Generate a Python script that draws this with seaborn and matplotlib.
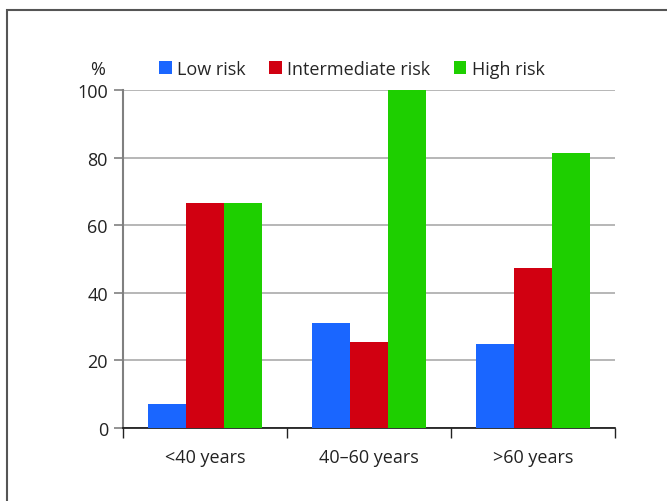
import pandas as pd
import matplotlib
matplotlib.use("Agg")
import matplotlib.pyplot as plt
import seaborn as sns
from matplotlib.patches import Rectangle

# data
age_groups = ["<40 years", "40\u201360 years", ">60 years"]
risk_groups = ["Low risk", "Intermediate risk", "High risk"]
low_risk = [7.0, 31.2, 25.0]
intermediate_risk = [66.7, 25.5, 47.4]
high_risk = [66.7, 100.0, 81.5]
y_ticks = [0, 20, 40, 60, 80, 100]

colors = ["#1a66ff", "#d10011", "#1ecf00"]

rows = []
for i, age in enumerate(age_groups):
    for risk, vals in zip(risk_groups, [low_risk, intermediate_risk, high_risk]):
        rows.append({"age": age, "risk": risk, "pct": vals[i]})
df = pd.DataFrame(rows)

sns.set_style("white")
plt.rcParams["font.family"] = ["Open Sans", "DejaVu Sans"]

fig = plt.figure(figsize=(6.67, 5.02), dpi=100)
ax = fig.add_axes([123 / 667, 1 - 429 / 502, (615 - 123) / 667, (429 - 91) / 502])

sns.barplot(data=df, x="age", y="pct", hue="risk", order=age_groups,
            hue_order=risk_groups, palette=colors, width=0.7,
            saturation=1, linewidth=0, edgecolor="none", ax=ax, zorder=3)

ax.set_ylim(0, 100)
ax.set_xlim(-0.5, 2.5)
ax.set_yticks(y_ticks)
ax.set_yticklabels([str(t) for t in y_ticks], fontsize=13, color="#222222")
ax.set_xticks([-0.5, 0.5, 1.5, 2.5])
ax.set_xticklabels([])
ax.tick_params(axis="x", bottom=True, length=7, width=1, color="#222222", direction="out")
ax.tick_params(axis="y", left=True, length=6.5, width=1.2, color="#808080", pad=4.3)
for i, age in enumerate(age_groups):
    ax.text(i, -6, age, ha="center", va="top", fontsize=13, color="#222222")

ax.grid(axis="y", color="#aaaaaa", linewidth=1.2, zorder=0)
ax.set_axisbelow(True)
for s in ["top", "right"]:
    ax.spines[s].set_visible(False)
ax.spines["left"].set_color("#808080")
ax.spines["left"].set_linewidth(1.5)
ax.spines["bottom"].set_color("#111111")
ax.spines["bottom"].set_linewidth(1.2)
ax.set_xlabel("")
ax.set_ylabel("")

ax.text(-0.052, 1.062, "%", transform=ax.transAxes, ha="center", va="center",
        fontsize=13, color="#222222")

ax.legend(loc="center", bbox_to_anchor=(0.465, 1.062), ncol=3, frameon=False,
          fontsize=13, handlelength=0.7, handleheight=0.7, handletextpad=0.3,
          columnspacing=1.3, borderaxespad=0, borderpad=0)

fig.patches.append(Rectangle((7 / 667, -0.1), 1.2, 1 - 11 / 502 + 0.1,
                             transform=fig.transFigure, fill=False,
                             edgecolor="#555555", linewidth=1.5))

fig.savefig("out.png", dpi=100)
